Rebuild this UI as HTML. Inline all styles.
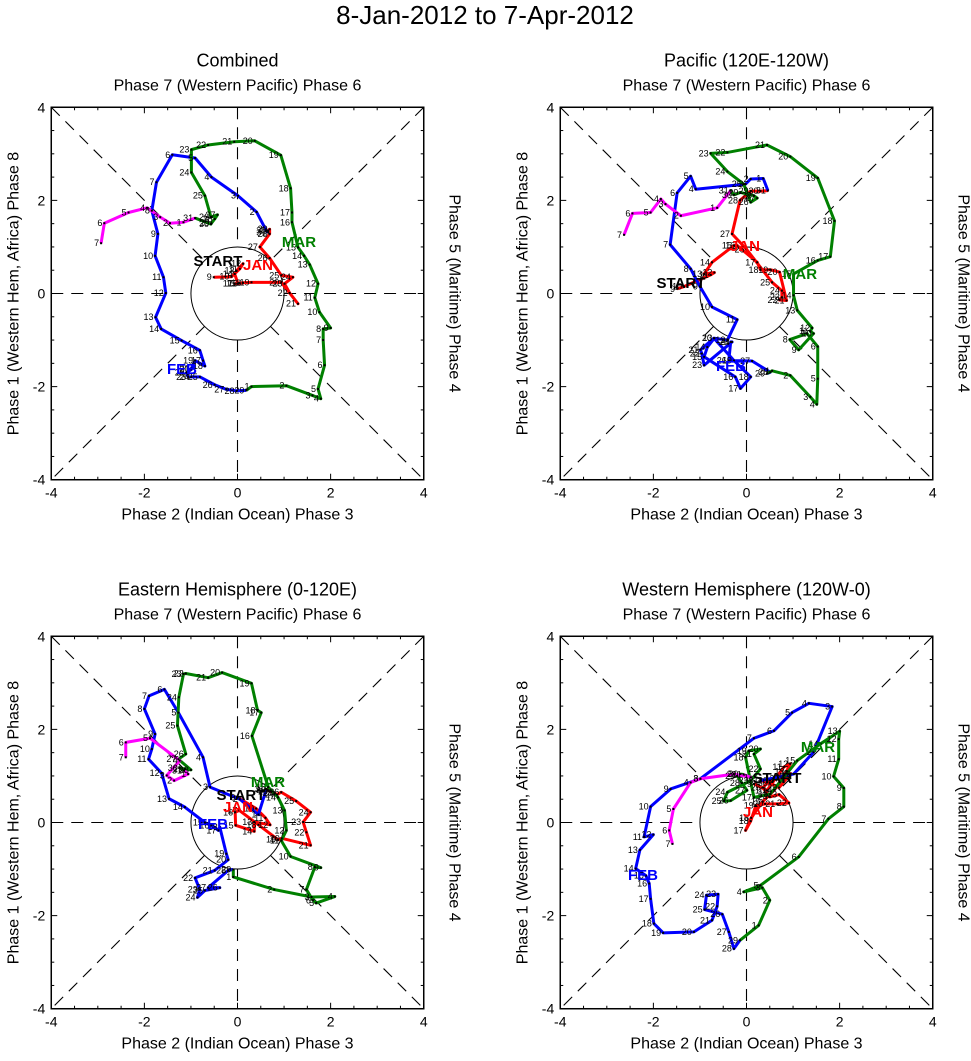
<!DOCTYPE html>
<html><head><meta charset="utf-8"><style>
body{margin:0;background:#fff;}
svg{display:block;font-family:"Liberation Sans",sans-serif;}
</style></head><body>
<svg id="chart" width="971" height="1061" viewBox="0 0 971 1061" xmlns="http://www.w3.org/2000/svg">
<text x="485" y="24" font-size="26" text-anchor="middle">8-Jan-2012 to 7-Apr-2012</text>
</svg>
<script>
// ---- data (RMM1, RMM2) per panel, per month ----
const combJanX=[-0.51,-0.13,0.05,0.12,-0.02,-0.06,0.01,0.05,-0.06,0.12,0.3,0.94,1.3,1.12,1.01,1.19,0.94,0.69,0.48,0.69,0.69,0.66,0.66];
const combJanY=[0.35,0.36,0.53,0.64,0.49,0.42,0.21,0.22,0.21,0.23,0.24,0.24,-0.22,0.01,0.21,0.35,0.39,0.76,1.0,1.28,1.38,1.35,1.31];
const combFebX=[0.62,0.41,0.01,-0.56,-0.91,-1.4,-1.74,-1.84,-1.71,-1.77,-1.59,-1.54,-1.76,-1.64,-1.2,-0.81,-0.74,-0.7,-0.91,-0.99,-0.99,-1.09,-1.06,-0.99,-0.81,-0.49,-0.24,-0.02,0.19];
const combFebY=[1.35,1.75,2.1,2.5,2.91,2.98,2.39,1.78,1.28,0.81,0.35,0.01,-0.51,-0.76,-1.01,-1.22,-1.44,-1.56,-1.44,-1.61,-1.63,-1.7,-1.79,-1.79,-1.79,-1.96,-2.06,-2.09,-2.08];
const combMarX=[0.3,1.05,1.61,1.79,1.73,1.87,1.84,1.84,2.0,1.76,1.66,1.73,1.55,1.43,1.3,1.17,1.17,1.14,0.93,0.37,-0.07,-0.63,-0.99,-0.99,-0.7,-0.57,-0.43,-0.49,-0.56,-0.57,-0.91];
const combMarY=[-2.0,-1.98,-2.19,-2.26,-2.05,-1.54,-1.0,-0.76,-0.74,-0.4,-0.09,0.21,0.62,0.81,0.99,1.53,1.74,2.26,2.97,3.28,3.26,3.19,3.09,2.6,2.1,1.64,1.69,1.6,1.51,1.49,1.62];
const combAprX=[-1.16,-1.45,-1.66,-1.94,-2.34,-2.86,-2.93];
const combAprY=[1.53,1.51,1.64,1.84,1.74,1.51,1.08];

const pacJanX=[-1.49,-1.34,-0.77,-0.69,-0.91,-0.74,-0.27,-0.2,0.23,0.3,0.51,0.71,0.86,0.71,0.76,0.76,0.55,0.0,-0.31,-0.14,0.09,0.3,0.46];
const pacJanY=[0.1,0.15,0.4,0.45,0.42,0.67,1.03,1.03,0.67,0.51,0.51,0.46,-0.15,-0.14,-0.08,0.06,0.24,0.95,1.28,2.0,2.2,2.2,2.21];
const pacFebX=[0.36,0.09,-0.02,-1.09,-1.2,-1.49,-1.64,-1.2,-1.0,-0.74,-0.2,-0.41,-0.69,-0.84,-0.91,-0.24,-0.13,0.09,-0.27,-0.7,-0.99,-0.96,-0.91,-0.31,-0.34,-0.38,0.12,0.51,0.44];
const pacFebY=[2.47,2.46,2.35,2.24,2.52,2.16,1.05,0.53,0.15,-0.29,-0.56,-1.0,-0.96,-1.15,-1.36,-1.79,-2.04,-1.79,-1.44,-0.96,-1.21,-1.29,-1.54,-1.04,-1.04,-1.44,-1.45,-1.69,-1.72];
const pacMarX=[0.55,0.94,1.37,1.51,1.53,1.53,1.3,0.93,1.12,1.44,1.37,1.41,1.09,1.01,1.01,1.53,1.8,1.89,1.53,0.94,0.44,-0.41,-0.77,-0.41,-0.06,0.09,0.23,0.16,-0.13,-0.27,-0.34];
const pacMarY=[-1.66,-1.76,-2.22,-2.38,-1.83,-1.14,-0.86,-0.99,-1.21,-0.86,-0.81,-0.74,-0.36,-0.04,0.42,0.71,0.79,1.56,2.48,2.94,3.19,3.03,3.01,2.62,2.35,1.96,2.05,2.1,2.17,2.12,2.21];
const pacAprX=[-0.63,-1.41,-1.74,-1.84,-2.06,-2.45,-2.63];
const pacAprY=[1.84,1.67,1.92,2.03,1.74,1.72,1.26];

const eastJanX=[0.0,0.4,0.6,0.7,0.36,0.36,-0.04,-0.05,0.04,0.45,0.87,0.95,1.57,1.48,1.41,1.57,1.26,0.94,0.85,0.8,0.7,0.65,0.62];
const eastJanY=[0.54,0.3,0.1,-0.05,0.01,-0.19,-0.06,0.22,0.26,-0.05,-0.37,-0.34,-0.49,-0.21,0.01,0.22,0.46,0.65,0.6,0.63,0.67,0.7,0.72];
const eastFebX=[0.45,0.05,-0.59,-0.74,-1.27,-1.57,-1.9,-2.0,-1.77,-1.84,-1.91,-1.63,-1.47,-1.13,-0.7,-0.56,-0.41,-0.38,-0.24,-0.2,-0.49,-0.91,-0.81,-0.86,-0.7,-0.38,-0.63,-0.2,-0.09];
const eastFebY=[0.17,0.5,0.76,1.4,2.36,2.86,2.72,2.44,1.9,1.58,1.36,1.06,0.51,0.33,0.0,-0.06,-0.17,-0.1,-0.67,-0.8,-1.03,-1.19,-1.44,-1.61,-1.46,-1.4,-1.4,-1.03,-1.01];
const eastMarX=[-0.09,0.79,1.59,2.09,1.69,1.62,1.48,1.66,1.79,1.14,0.94,1.05,1.01,0.87,0.66,0.31,0.51,0.43,0.3,-0.33,-0.63,-1.11,-1.16,-1.26,-1.29,-1.11,-1.27,-1.0,-1.13,-1.24,-1.15];
const eastMarY=[-1.17,-1.44,-1.6,-1.59,-1.73,-1.67,-1.44,-0.96,-0.97,-0.73,-0.39,-0.17,0.26,0.54,0.76,1.86,2.36,2.41,2.99,3.22,3.11,3.2,3.19,2.69,2.08,1.47,1.36,1.13,1.15,1.17,1.12];
const eastAprX=[-1.06,-1.36,-1.52,-1.24,-1.88,-2.4,-2.4];
const eastAprY=[1.04,0.9,1.01,1.33,1.81,1.72,1.4];

const westJanX=[0.16,0.44,0.8,0.94,0.86,0.6,0.35,0.1,-0.02,0.09,0.2,0.4,0.66,0.91,0.7,0.5,0.35,0.5,0.75,0.95,0.7,0.5,0.3];
const westJanY=[0.83,0.69,1.19,1.26,1.1,0.7,0.45,0.1,-0.17,0.03,0.36,0.4,0.4,0.42,0.6,0.55,0.75,0.9,0.95,1.05,0.75,0.85,0.9];
const westFebX=[1.01,1.44,1.84,1.34,0.98,0.59,0.16,-0.99,-1.63,-2.06,-2.2,-2.0,-2.29,-2.38,-2.16,-2.09,-2.06,-1.99,-1.79,-1.13,-0.74,-0.63,-0.61,-0.86,-0.9,-0.52,-0.38,-0.27,-0.14];
const westFebY=[1.04,1.51,2.49,2.56,2.36,1.97,1.81,0.94,0.72,0.34,-0.31,-0.26,-0.59,-0.99,-1.14,-1.31,-1.64,-2.17,-2.37,-2.35,-2.1,-1.8,-1.54,-1.56,-1.87,-1.97,-2.35,-2.71,-2.53];
const westMarX=[0.26,0.5,0.34,-0.06,0.3,1.12,1.76,2.09,2.09,1.87,1.98,1.98,2.0,1.59,1.09,0.51,0.16,-0.02,0.05,0.3,0.16,0.3,0.09,-0.41,-0.49,-0.34,0.01,-0.1,-0.2,-0.13,-0.06];
const westMarY=[-2.21,-1.67,-1.4,-1.49,-1.35,-0.74,0.08,0.34,0.74,0.99,1.36,1.79,1.96,1.69,1.33,0.61,0.54,1.4,1.54,1.58,1.47,1.15,0.9,0.65,0.46,0.47,0.69,0.85,1.0,1.04,1.03];
const westAprX=[0.09,-0.27,-0.99,-1.2,-1.57,-1.66,-1.59];
const westAprY=[0.97,1.04,0.94,0.86,0.29,-0.17,-0.46];

const tickVals=[-4,-2,0,2,4];
const janDays=[9,10,11,12,13,14,15,16,17,18,19,20,21,22,23,24,25,26,27,28,29,30,31];

const panels=[
 {name:'combined',title:'Combined',cx:237.5,cy:293.5,jx:combJanX,jy:combJanY,fx:combFebX,fy:combFebY,mx:combMarX,my:combMarY,ax:combAprX,ay:combAprY,lab:{START:[218,266],JAN:[258,270],MAR:[299,247],FEB:[182,374]}},
 {name:'pacific',title:'Pacific (120E-120W)',cx:746.5,cy:293.5,jx:pacJanX,jy:pacJanY,fx:pacFebX,fy:pacFebY,mx:pacMarX,my:pacMarY,ax:pacAprX,ay:pacAprY,lab:{START:[681,288],JAN:[745,251],MAR:[800,279],FEB:[731,371]}},
 {name:'eastern-hemisphere',title:'Eastern Hemisphere (0-120E)',cx:237.5,cy:822.5,jx:eastJanX,jy:eastJanY,fx:eastFebX,fy:eastFebY,mx:eastMarX,my:eastMarY,ax:eastAprX,ay:eastAprY,lab:{START:[241,800],JAN:[238,812],MAR:[268,787],FEB:[213,829]}},
 {name:'western-hemisphere',title:'Western Hemisphere (120W-0)',cx:746.5,cy:822.5,jx:westJanX,jy:westJanY,fx:westFebX,fy:westFebY,mx:westMarX,my:westMarY,ax:westAprX,ay:westAprY,lab:{START:[777,783],JAN:[758,817],MAR:[818,752],FEB:[643,880]}}
];
const S=46.56;
const NS='http://www.w3.org/2000/svg';
const svg=document.getElementById('chart');
function mk(tag,attrs,parent,txt){const e=document.createElementNS(NS,tag);for(const k in attrs)e.setAttribute(k,attrs[k]);if(txt!==undefined)e.textContent=txt;(parent||svg).appendChild(e);return e;}

panels.forEach(p=>{
 const g=mk('g',{});
 
 
 const X=v=>p.cx+v*S, Y=v=>p.cy-v*S;
 const L=X(-4),R=X(4),T=Y(4),B=Y(-4);
 const dl=(x1,y1,x2,y2)=>{const l=mk('line',{x1,y1,x2,y2,stroke:'#000','stroke-width':1.1,'stroke-dasharray':'12,8'},g);
  
  };
 const r=1, d=r/Math.SQRT2;
 dl(X(-4),Y(0),X(-r),Y(0)); dl(X(r),Y(0),X(4),Y(0));
 dl(X(0),Y(4),X(0),Y(r)); dl(X(0),Y(-r),X(0),Y(-4));
 dl(X(-4),Y(4),X(-d),Y(d)); dl(X(d),Y(-d),X(4),Y(-4));
 dl(X(4),Y(4),X(d),Y(d)); dl(X(-d),Y(-d),X(-4),Y(-4));
 const c=mk('circle',{cx:p.cx,cy:p.cy,r:S,fill:'none',stroke:'#000','stroke-width':1},g);
 
 
 const fr=mk('rect',{x:L,y:T,width:R-L,height:B-T,fill:'none',stroke:'#000','stroke-width':1.5},g);
 
 
 for(let v=-4;v<=4.001;v+=0.5){
  const len=(Math.abs(v-Math.round(v/2)*2)<0.01)?6:3;
  mk('line',{x1:X(v),y1:B,x2:X(v),y2:B-len,stroke:'#000'},g);
  mk('line',{x1:X(v),y1:T,x2:X(v),y2:T+len,stroke:'#000'},g);
  mk('line',{x1:L,y1:Y(v),x2:L+len,y2:Y(v),stroke:'#000'},g);
  mk('line',{x1:R,y1:Y(v),x2:R-len,y2:Y(v),stroke:'#000'},g);
 }
 tickVals.forEach(v=>{
  const tx=mk('text',{x:X(v),y:B+18,'font-size':14,'text-anchor':'middle'},g,String(v));
  
  
  const ty=mk('text',{x:L-6,y:Y(v)+5,'font-size':14,'text-anchor':'end'},g,String(v));
  
  
 });
 const t1=mk('text',{x:p.cx,y:T-41,'font-size':18,'text-anchor':'middle'},g,p.title);
 
 
 const t2=mk('text',{x:p.cx,y:T-17,'font-size':16,'text-anchor':'middle'},g,'Phase 7 (Western Pacific) Phase 6');
 
 
 const t3=mk('text',{x:p.cx,y:B+40,'font-size':16,'text-anchor':'middle'},g,'Phase 2 (Indian Ocean) Phase 3');
 
 
 const t4=mk('text',{x:0,y:0,'font-size':16,'text-anchor':'middle',transform:`translate(${L-33},${p.cy}) rotate(-90)`},g,'Phase 1 (Western Hem, Africa) Phase 8');
 
 
 const t5=mk('text',{x:0,y:0,'font-size':16,'text-anchor':'middle',transform:`translate(${R+26},${p.cy}) rotate(90)`},g,'Phase 5 (Maritime) Phase 4');
 
 

 const series=[
  {n:'jan',col:'#ff0000',xs:p.jx,ys:p.jy,days:janDays,pre:null},
  {n:'feb',col:'#0000ff',xs:p.fx,ys:p.fy,days:p.fx.map((_,i)=>i+1),pre:[p.jx,p.jy]},
  {n:'mar',col:'#008000',xs:p.mx,ys:p.my,days:p.mx.map((_,i)=>i+1),pre:[p.fx,p.fy]},
  {n:'apr',col:'#ff00ff',xs:p.ax,ys:p.ay,days:p.ax.map((_,i)=>i+1),pre:[p.mx,p.my]}
 ];
 series.forEach(s=>{
  let pts=[];
  if(s.pre){const k=s.pre[0].length-1;pts.push([X(s.pre[0][k]),Y(s.pre[1][k])]);}
  s.xs.forEach((v,i)=>pts.push([X(v),Y(s.ys[i])]));
  const pl=mk('polyline',{points:pts.map(q=>q.join(',')).join(' '),fill:'none',stroke:s.col,'stroke-width':3,'stroke-linejoin':'round'},g);
  
  
 });
 series.forEach(s=>{
  s.xs.forEach((v,i)=>{
   const px=X(v),py=Y(s.ys[i]);
   const dot=mk('rect',{x:px-1,y:py-1,width:2,height:2,fill:'#000'},g);
   
   
   const lb=mk('text',{x:px-2,y:py+3,'font-size':9,'text-anchor':'end'},g,String(s.days[i]));
   
   
  });
 });
 const mcol={START:'#000',JAN:'#ff0000',FEB:'#0000ff',MAR:'#008000'};
 for(const k in p.lab){
  const m=mk('text',{x:p.lab[k][0],y:p.lab[k][1],'font-size':15,'font-weight':'bold','text-anchor':'middle',fill:mcol[k]},g,k);
  
  
 }
});
</script>
</body></html>
